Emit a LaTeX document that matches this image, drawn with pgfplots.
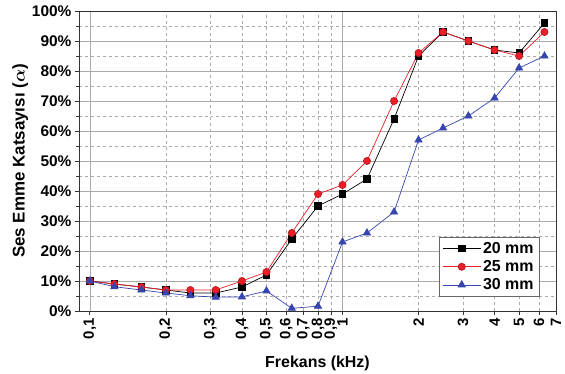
\documentclass[border=0pt]{standalone}
\usepackage{amsmath}
\usepackage{pgfplots}
\pgfplotsset{compat=1.18}
\usepackage{fontspec}
\setmainfont{Liberation Sans}
\definecolor{cred}{RGB}{235,30,40}
\definecolor{cblue}{RGB}{55,70,175}
\definecolor{gridc}{RGB}{170,170,170}
\begin{document}
\begin{tikzpicture}
\begin{axis}[
  name=ax,
  scale only axis, width=477bp, height=300bp,
  xmode=log, xmin=0.0906, xmax=7, ymin=0, ymax=100,
  /pgf/number format/assume math mode=true,
  xtick={0.1,1}, xticklabels={{0,1},{1}},
  minor xtick={0.2,0.3,0.4,0.5,0.6,0.7,0.8,0.9,2,3,4,5,6,7},
  extra x ticks={0.2,0.3,0.4,0.5,0.6,0.7,0.8,0.9,2,3,4,5,6,7},
  extra x tick labels={{0,2},{0,3},{0,4},{0,5},{0,6},{0,7},{0,8},{0,9},{2},{3},{4},{5},{6},{7}},
  extra x tick style={grid=none},
  ytick={0,10,...,100},
  yticklabels={0\%,10\%,20\%,30\%,40\%,50\%,60\%,70\%,80\%,90\%,100\%},
  minor ytick={5,15,...,95},
  grid=both,
  major grid style={gridc, solid, line width=0.6pt},
  minor grid style={gridc, dashed, line width=0.5pt},
  axis line style={black!80, line width=0.9pt},
  tick align=outside, tick pos=left,
  major tick length=4bp, minor tick length=2.5bp,
  every tick/.style={black!80, line width=0.7pt},
  xticklabel style={rotate=90, anchor=east, font=\bfseries\fontsize{15}{15}\selectfont},
  yticklabel style={font=\bfseries\fontsize{15.5}{15.5}\selectfont},
  xlabel={\bfseries Frekans (kHz)},
  ylabel={\bfseries Ses Emme Katsayısı (\(\boldsymbol{\alpha}\))},
  xlabel style={font=\fontsize{16}{16}\selectfont, yshift=-2bp},
  ylabel style={font=\fontsize{17}{17}\selectfont, yshift=-3bp},
  legend style={at={(0.965,0.047)}, anchor=south east, draw=black!60, line width=0.5pt,
    font=\bfseries\fontsize{16}{19}\selectfont, row sep=1.5pt, inner sep=3.5pt},
  legend cell align=left,
  legend image code/.code={\draw[mark repeat=2,mark phase=2] plot coordinates {(0cm,0cm)(0.67cm,0cm)(1.34cm,0cm)};},
]
\addplot[black, line width=0.7pt, mark=square*, mark size=3.2pt, mark options={fill=black}] coordinates {
(0.1,10)(0.125,9)(0.16,8)(0.2,7)(0.25,6)(0.315,6)(0.4,8)(0.5,12)(0.63,24)(0.8,35)(1,39)(1.25,44)(1.6,64)(2,85)(2.5,93)(3.15,90)(4,87)(5,86)(6.3,96)};
\addlegendentry{20 mm}
\addplot[cred, line width=0.7pt, mark=*, mark size=3.6pt, mark options={fill=cred, draw=cred!80!black}] coordinates {
(0.1,10)(0.125,9)(0.16,8)(0.2,7)(0.25,7)(0.315,7)(0.4,10)(0.5,13)(0.63,26)(0.8,39)(1,42)(1.25,50)(1.6,70)(2,86)(2.5,93)(3.15,90)(4,87)(5,85)(6.3,93)};
\addlegendentry{25 mm}
\addplot[cblue, line width=0.7pt, mark=triangle*, mark size=4.2pt, mark options={fill=cblue}] coordinates {
(0.1,10)(0.125,8.1)(0.16,7)(0.2,6)(0.25,5.1)(0.315,4.6)(0.4,4.7)(0.5,6.7)(0.63,0.9)(0.8,1.6)(1,23)(1.25,26)(1.6,33)(2,57)(2.5,61)(3.15,65)(4,71)(5,81)(6.3,85)};
\addlegendentry{30 mm}
\end{axis}
\pgfresetboundingbox
\path[use as bounding box] ([xshift=-79bp,yshift=-63bp]ax.south west) rectangle ([xshift=9bp,yshift=11bp]ax.north east);
\end{tikzpicture}
\end{document}
